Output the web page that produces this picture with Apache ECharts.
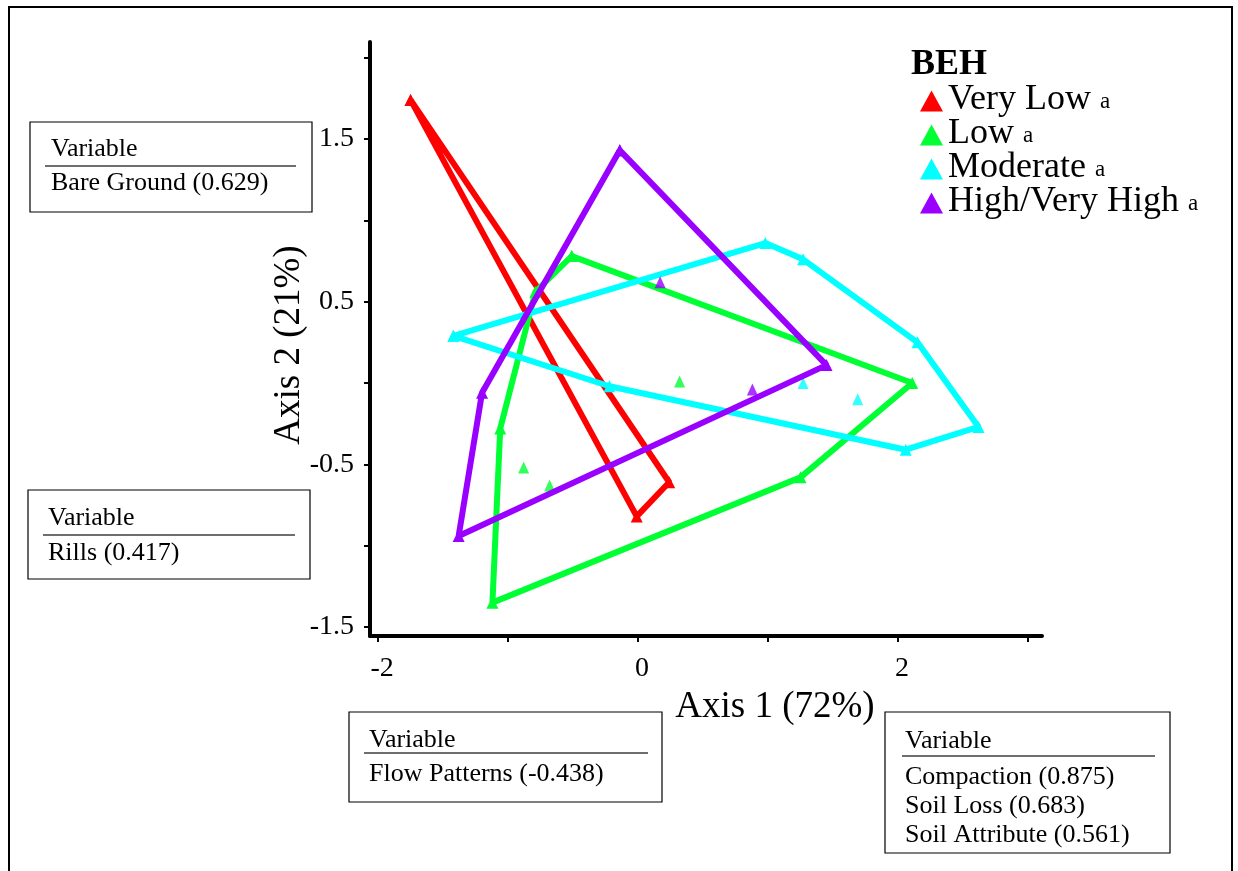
<!DOCTYPE html>
<html>
<head>
<meta charset="utf-8">
<script src="https://cdn.jsdelivr.net/npm/echarts@6/dist/echarts.min.js"></script>
<style>
  html, body { margin: 0; padding: 0; background: #fff; }
  #chart { width: 1238px; height: 871px; }
</style>
</head>
<body>
<div id="chart"></div>
<script>
// Ordination scores (Axis 1, Axis 2) by BEH class: convex hull vertices and interior points
const groupNames = ['Very Low', 'Low', 'Moderate', 'High/Very High'];
const groupColors = ['#ff0000', '#00ff33', '#00ffff', '#9900ff'];

const veryLowHull = [[-1.75, 1.74], [0.24, -0.61], [-0.01, -0.82]];
const veryLowInner = [];

const lowHull = [[-0.51, 0.78], [2.11, 0.0], [1.25, -0.58], [-1.12, -1.35], [-1.06, -0.28], [-0.79, 0.56]];
const lowInner = [[0.32, 0.01], [-0.88, -0.52], [-0.68, -0.63]];

const moderateHull = [[-1.42, 0.29], [0.98, 0.86], [1.27, 0.76], [2.15, 0.25], [2.62, -0.27], [2.06, -0.41], [-0.22, -0.02]];
const moderateInner = [[1.27, 0.0], [1.69, -0.10]];

const highHull = [[-0.14, 1.43], [1.45, 0.11], [-1.38, -0.94], [-1.20, -0.06]];
const highInner = [[0.17, 0.62], [0.88, -0.04]];

const xTicks = [-2, -1, 0, 1, 2, 3];
const xLabels = [-2, 0, 2];
const yTicks = [-1.5, -1, -0.5, 0, 0.5, 1, 1.5, 2];
const yLabels = [-1.5, -0.5, 0.5, 1.5];

// Variable loadings shown in the side boxes
const boxBareGround = ['Bare Ground (0.629)'];
const boxRills = ['Rills (0.417)'];
const boxFlow = ['Flow Patterns (-0.438)'];
const boxAxis1 = ['Compaction (0.875)', 'Soil Loss (0.683)', 'Soil Attribute (0.561)'];

const hulls = [veryLowHull, lowHull, moderateHull, highHull];
const inners = [veryLowInner, lowInner, moderateInner, highInner];

const SERIF = '"Liberation Serif", "Times New Roman", serif';

const series = [];
groupNames.forEach((name, i) => {
  const ring = hulls[i].concat([hulls[i][0]]);
  series.push({
    name: name,
    type: 'line',
    data: ring,
    symbol: 'triangle',
    symbolSize: 12,
    showSymbol: true,
    lineStyle: { color: groupColors[i], width: 6 },
    itemStyle: { color: groupColors[i] },
    z: 2 + i
  });
  series.push({
    name: name,
    type: 'scatter',
    data: inners[i],
    symbol: 'triangle',
    symbolSize: [11, 12],
    itemStyle: { color: groupColors[i] },
    z: 2 + i
  });
});

// Framed variable boxes; the content is clipped to the box outline
function varBox(x, y, w, h, lineY, lineX1, lineX2, textX, headerY, rows, rowY, rowStep) {
  const textStyle = (t, ty) => ({
    type: 'text',
    style: { text: t, x: textX, y: ty, font: '26px ' + SERIF, fill: '#000',
      textAlign: 'left', textVerticalAlign: 'middle', verticalAlign: 'middle' }
  });
  const inner = [
    { type: 'line', shape: { x1: lineX1, y1: lineY, x2: lineX2, y2: lineY },
      style: { stroke: '#6e6e6e', lineWidth: 2 } },
    textStyle('Variable', headerY)
  ];
  rows.forEach((t, k) => inner.push(textStyle(t, rowY + k * rowStep)));
  return {
    type: 'group',
    children: [
      { type: 'rect', shape: { x: x, y: y, width: w, height: h },
        style: { fill: '#fff', stroke: '#000', lineWidth: 1.2 } },
      { type: 'group', children: inner,
        clipPath: { type: 'rect', shape: { x: x, y: y, width: w, height: h - 1 } } }
    ]
  };
}

const chart = echarts.init(document.getElementById('chart'), null, { renderer: 'canvas' });
chart.setOption({
  animation: false,
  backgroundColor: '#fff',
  title: {
    text: 'BEH',
    left: 911,
    top: 47,
    padding: 0,
    textStyle: { fontFamily: SERIF, fontSize: 36, fontWeight: 'bold', color: '#000' }
  },
  legend: {
    orient: 'vertical',
    left: 920,
    top: 82,
    padding: 0,
    itemGap: -3,
    itemWidth: 23,
    itemHeight: 21,
    data: groupNames.map(n => ({ name: n, icon: 'triangle' })),
    formatter: name => '{n|' + name + '} {a|a}',
    textStyle: {
      fontFamily: SERIF, fontSize: 36, lineHeight: 34, color: '#000',
      rich: {
        n: { fontFamily: SERIF, fontSize: 36, lineHeight: 34, verticalAlign: 'bottom', color: '#000' },
        a: { fontFamily: SERIF, fontSize: 23, lineHeight: 24, verticalAlign: 'bottom',
          padding: [0, 0, 5, 0], color: '#000' }
      }
    }
  },
  grid: { left: 370, right: 196, top: 42, bottom: 235, containLabel: false },
  xAxis: {
    type: 'value',
    min: -2.062,
    max: 3.108,
    axisLine: { onZero: false, lineStyle: { color: '#000', width: 4 } },
    axisTick: { show: true, customValues: xTicks, length: 6, lineStyle: { color: '#000', width: 2 } },
    axisLabel: { customValues: xLabels, margin: 19, fontFamily: SERIF, fontSize: 28, color: '#000',
      padding: [0, 0, 0, 8] },
    splitLine: { show: false }
  },
  yAxis: {
    type: 'value',
    min: -1.555,
    max: 2.096,
    name: 'Axis 2 (21%)',
    nameLocation: 'middle',
    nameGap: 62,
    nameRotate: 90,
    nameMoveOverlap: false,
    nameTextStyle: { fontFamily: SERIF, fontSize: 37, color: '#000', padding: [0, 12, 0, 0] },
    axisLine: { onZero: false, lineStyle: { color: '#000', width: 4 } },
    axisTick: { show: true, customValues: yTicks, length: 6, lineStyle: { color: '#000', width: 2 } },
    axisLabel: { customValues: yLabels, margin: 16, fontFamily: SERIF, fontSize: 28, color: '#000' },
    splitLine: { show: false }
  },
  graphic: [
    { type: 'rect', shape: { x: 9, y: 7, width: 1223, height: 880 },
      style: { fill: 'none', stroke: '#000', lineWidth: 2 }, z: 0, silent: true },
    { type: 'text', style: { text: 'Axis 1 (72%)', x: 775, y: 707, font: '37px ' + SERIF, fill: '#000',
      textAlign: 'center', textVerticalAlign: 'middle', verticalAlign: 'middle', align: 'center' } },
    varBox(30, 122, 282, 90, 166, 45, 296, 51, 149, boxBareGround, 183, 0),
    varBox(28, 490, 282, 89, 535, 43, 295, 48, 518, boxRills, 553, 0),
    varBox(349, 712, 313, 90, 753, 364, 648, 369, 740, boxFlow, 774, 0),
    varBox(885, 712, 285, 141, 756, 902, 1155, 905, 741, boxAxis1, 777, 29)
  ],
  series: series
});
</script>
</body>
</html>
